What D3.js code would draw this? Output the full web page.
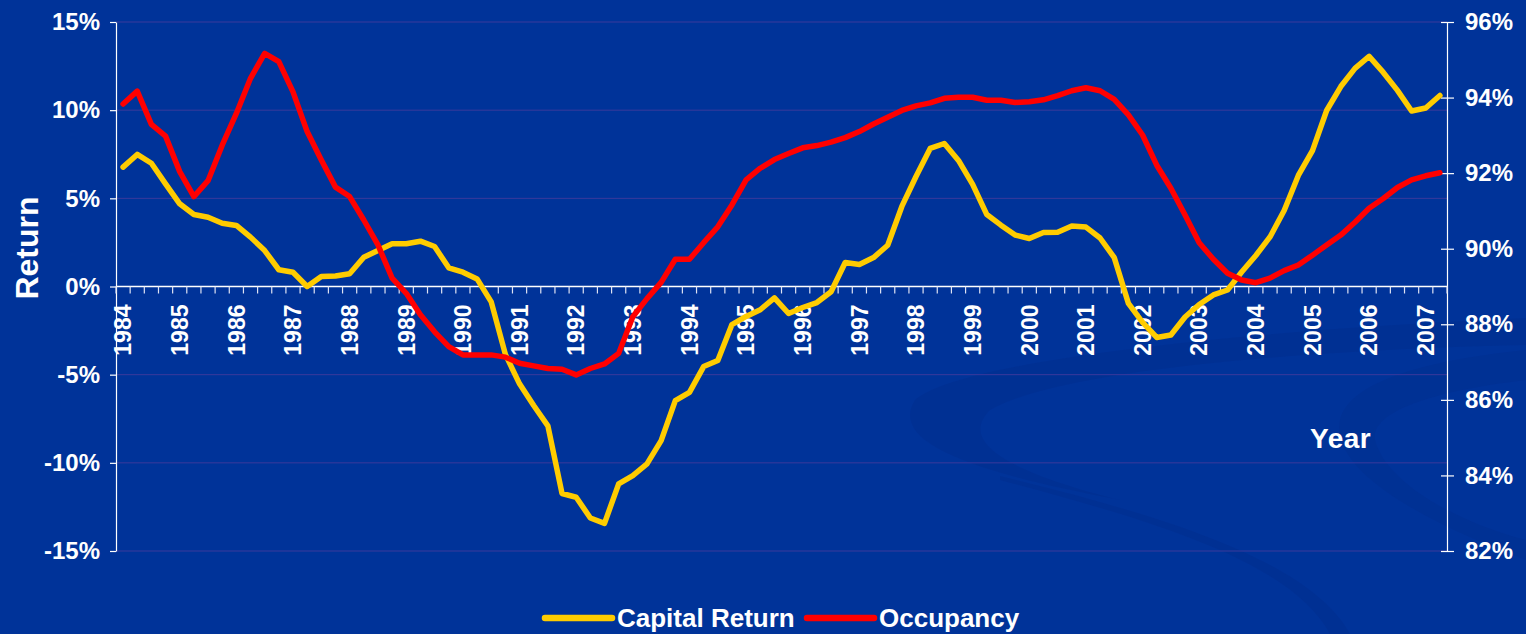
<!DOCTYPE html>
<html>
<head>
<meta charset="utf-8">
<script src="https://cdn.jsdelivr.net/npm/d3@7"></script>
<style>
  body { margin: 0; background: #003399; }
  svg { display: block; font-family: "Liberation Sans", Arial, sans-serif; font-weight: bold; }
</style>
</head>
<body>
<div id="chart"></div>
<script>
// quarterly data, 1984 Q1 to 2007 Q2
const years = [1984, 1985, 1986, 1987, 1988, 1989, 1990, 1991, 1992, 1993, 1994, 1995,
               1996, 1997, 1998, 1999, 2000, 2001, 2002, 2003, 2004, 2005, 2006, 2007];
const quarters = years.flatMap(y => ["Q1", "Q2", "Q3", "Q4"].map(q => y + " " + q)).slice(0, 94);

const capitalReturn = [
  6.77, 7.49, 6.99, 5.82, 4.69, 4.08, 3.93, 3.59, 3.46, 2.80, 2.04, 0.95,
  0.81, 0.00, 0.57, 0.60, 0.72, 1.66, 2.04, 2.42, 2.42, 2.57, 2.27, 1.06,
  0.81, 0.43, -0.87, -3.85, -5.52, -6.75, -7.90, -11.74, -11.95, -13.13, -13.43, -11.19,
  -10.72, -10.06, -8.74, -6.47, -6.00, -4.54, -4.20, -2.16, -1.70, -1.32, -0.64, -1.53,
  -1.19, -0.91, -0.30, 1.36, 1.25, 1.64, 2.34, 4.54, 6.24, 7.83, 8.11, 7.15,
  5.79, 4.08, 3.48, 2.92, 2.72, 3.06, 3.08, 3.43, 3.37, 2.75, 1.64, -0.96,
  -2.04, -2.89, -2.75, -1.73, -1.02, -0.48, -0.20, 0.82, 1.76, 2.81, 4.31, 6.30,
  7.71, 9.98, 11.34, 12.37, 13.05, 12.14, 11.12, 9.95, 10.12, 10.83
];

const occupancy = [
  93.83, 94.17, 93.29, 92.98, 92.04, 91.38, 91.80, 92.74, 93.58, 94.51, 95.17, 94.95,
  94.15, 93.10, 92.35, 91.63, 91.38, 90.76, 90.10, 89.22, 88.82, 88.25, 87.80, 87.41,
  87.19, 87.19, 87.19, 87.13, 86.97, 86.90, 86.83, 86.81, 86.66, 86.83, 86.95, 87.23,
  88.20, 88.68, 89.11, 89.72, 89.72, 90.16, 90.58, 91.16, 91.82, 92.13, 92.36, 92.52,
  92.67, 92.73, 92.82, 92.94, 93.10, 93.30, 93.48, 93.66, 93.78, 93.86, 93.98, 94.01,
  94.01, 93.93, 93.93, 93.87, 93.89, 93.94, 94.05, 94.18, 94.26, 94.18, 93.95, 93.54,
  93.01, 92.21, 91.60, 90.89, 90.16, 89.72, 89.35, 89.17, 89.10, 89.22, 89.42, 89.57,
  89.83, 90.10, 90.36, 90.70, 91.07, 91.33, 91.62, 91.82, 91.93, 92.01
];

const returnTicks = [-15, -10, -5, 0, 5, 10, 15];
const occupancyTicks = [82, 84, 86, 88, 90, 92, 94, 96];
const seriesNames = ["Capital Return", "Occupancy"];
const seriesColors = ["#ffcc00", "#ff0000"];

const width = 1526, height = 634;
const margin = { top: 22, right: 79, bottom: 83, left: 116 };

const svg = d3.select("#chart").append("svg")
    .attr("width", width)
    .attr("height", height);

svg.append("rect")
    .attr("width", width)
    .attr("height", height)
    .attr("fill", "#003399");

// faint background swooshes
svg.append("path")
    .attr("d", "M1526,318 C1250,330 960,360 915,400 C890,440 960,470 1120,500 C1000,470 960,440 990,410 C1060,370 1300,350 1526,345 Z")
    .attr("fill", "#002f8f")
    .attr("opacity", 0.6);
svg.append("path")
    .attr("d", "M1000,480 C1150,520 1290,560 1330,634 L1350,634 C1310,560 1160,515 1000,476 Z")
    .attr("fill", "#002f8f")
    .attr("opacity", 0.6);
svg.append("path")
    .attr("d", "M1526,560 C1420,520 1330,470 1340,420 C1350,380 1430,360 1526,350 L1526,380 C1440,390 1370,410 1375,440 C1385,480 1450,520 1526,540 Z")
    .attr("fill", "#002f8f")
    .attr("opacity", 0.45);

const x = d3.scaleBand()
    .domain(quarters)
    .range([margin.left, width - margin.right]);
const cx = d => x(d) + x.bandwidth() / 2;

const yL = d3.scaleLinear()
    .domain([-15, 15])
    .range([height - margin.bottom, margin.top]);

const yR = d3.scaleLinear()
    .domain([82, 96])
    .range([height - margin.bottom, margin.top]);

// gridlines
svg.append("g")
    .selectAll("line")
    .data(returnTicks.filter(d => d !== 0))
    .enter().append("line")
    .attr("x1", margin.left)
    .attr("x2", width - margin.right)
    .attr("y1", d => yL(d))
    .attr("y2", d => yL(d))
    .attr("stroke", "#3a3a9c")
    .attr("stroke-width", 1);

// left axis
const leftAxis = svg.append("g")
    .attr("transform", `translate(${margin.left},0)`)
    .call(d3.axisLeft(yL).tickValues(returnTicks).tickFormat(d => d + "%")
        .tickSize(6).tickSizeOuter(0).tickPadding(10));

// right axis (cross ticks)
const rightAxis = svg.append("g")
    .attr("transform", `translate(${width - margin.right},0)`)
    .call(d3.axisRight(yR).tickValues(occupancyTicks).tickFormat(d => d + "%")
        .tickSize(7).tickSizeOuter(0).tickPadding(11));
rightAxis.selectAll(".tick").append("line")
    .attr("x2", -6)
    .attr("stroke", "#ffffff");

[leftAxis, rightAxis].forEach(g => {
    g.attr("font-family", null).attr("font-size", null);
    g.select(".domain").attr("stroke", "#ffffff").attr("stroke-width", 1.2);
    g.selectAll(".tick line").attr("stroke", "#ffffff").attr("stroke-width", 1.2);
    g.selectAll("text")
        .attr("fill", "#ffffff")
        .style("font-size", "24px")
        .style("font-weight", "bold");
});

// category axis at 0%
const y0 = yL(0);
const xAxis = svg.append("g");
xAxis.append("line")
    .attr("x1", margin.left)
    .attr("x2", width - margin.right)
    .attr("y1", y0)
    .attr("y2", y0)
    .attr("stroke", "#ffffff")
    .attr("stroke-width", 1.5);

xAxis.selectAll(".qtick")
    .data(quarters.concat(["end"]))
    .enter().append("line")
    .attr("class", "qtick")
    .attr("x1", d => d === "end" ? width - margin.right : x(d))
    .attr("x2", d => d === "end" ? width - margin.right : x(d))
    .attr("y1", y0)
    .attr("y2", y0 + 7)
    .attr("stroke", "#dfe3f3")
    .attr("stroke-width", 1.2);

xAxis.selectAll(".ylabel")
    .data(quarters.filter(q => q.endsWith("Q1")))
    .enter().append("text")
    .attr("class", "ylabel")
    .attr("transform", d => `translate(${cx(d)},${y0 + 18}) rotate(-90)`)
    .attr("text-anchor", "end")
    .attr("dy", "0.36em")
    .attr("fill", "#ffffff")
    .style("font-size", "23px")
    .text(d => d.slice(0, 4));

// series lines
const lineL = d3.line()
    .x((d, i) => cx(quarters[i]))
    .y(d => yL(d));
const lineR = d3.line()
    .x((d, i) => cx(quarters[i]))
    .y(d => yR(d));

svg.append("path")
    .datum(capitalReturn)
    .attr("d", lineL)
    .attr("fill", "none")
    .attr("stroke", seriesColors[0])
    .attr("stroke-width", 5.5)
    .attr("stroke-linejoin", "round")
    .attr("stroke-linecap", "round");

svg.append("path")
    .datum(occupancy)
    .attr("d", lineR)
    .attr("fill", "none")
    .attr("stroke", seriesColors[1])
    .attr("stroke-width", 5.5)
    .attr("stroke-linejoin", "round")
    .attr("stroke-linecap", "round");

// axis titles
svg.append("text")
    .attr("transform", "translate(26,248) rotate(-90)")
    .attr("text-anchor", "middle")
    .attr("dy", "0.36em")
    .attr("fill", "#ffffff")
    .style("font-size", "32px")
    .text("Return");

svg.append("text")
    .attr("x", 1310)
    .attr("y", 448)
    .attr("fill", "#ffffff")
    .style("font-size", "28px")
    .style("letter-spacing", "0.5px")
    .text("Year");

// legend
const legendPos = [545, 807];
const legend = svg.append("g")
    .selectAll("g")
    .data(seriesNames)
    .enter().append("g")
    .attr("transform", (d, i) => `translate(${legendPos[i]},618)`);

legend.append("line")
    .attr("x1", 0)
    .attr("x2", 67)
    .attr("stroke", (d, i) => seriesColors[i])
    .attr("stroke-width", 6.5)
    .attr("stroke-linecap", "round");

legend.append("text")
    .attr("x", 72)
    .attr("y", 9)
    .attr("fill", "#ffffff")
    .style("font-size", "26px")
    .text(d => d);
</script>
</body>
</html>
